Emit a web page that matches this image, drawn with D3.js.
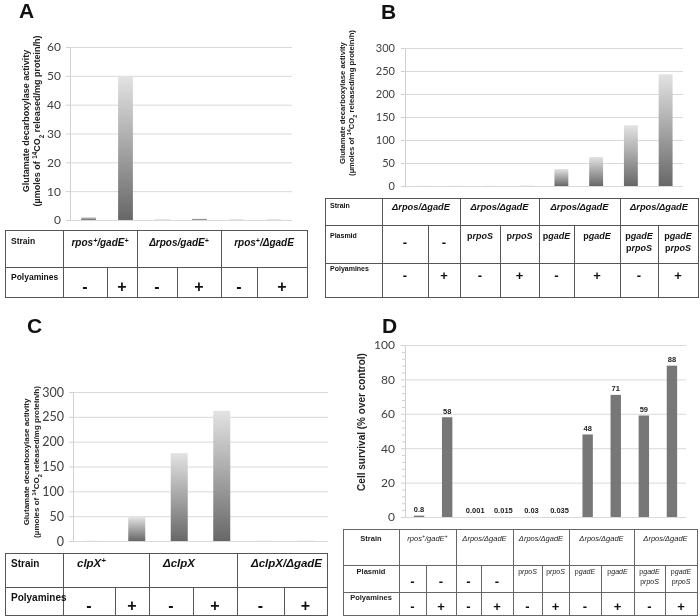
<!DOCTYPE html>
<html>
<head>
<meta charset="utf-8">
<script src="https://cdn.jsdelivr.net/npm/d3@7/dist/d3.min.js"></script>
<style>
  body { margin: 0; background: #fff; }
  svg { display: block; will-change: transform; }
</style>
</head>
<body>
<div id="figure"></div>
<script>
// panel A
const aStrains = ["rpos^+/gadE^+", "Δrpos/gadE^+", "rpos^+/ΔgadE"];
const aPolyamines = ["-", "+", "-", "+", "-", "+"];
const aValues = [1, 50, 0.2, 0.5, 0.2, 0.2];
const aTicks = [0, 10, 20, 30, 40, 50, 60];

// panel B
const bStrains = ["Δrpos/ΔgadE", "Δrpos/ΔgadE", "Δrpos/ΔgadE", "Δrpos/ΔgadE"];
const bPlasmids = ["-", "-", "prpoS", "prpoS", "pgadE", "pgadE", "pgadE|prpoS", "pgadE|prpoS"];
const bPolyamines = ["-", "+", "-", "+", "-", "+", "-", "+"];
const bValues = [0.5, 0.5, 0.5, 1, 37, 63, 132, 243];
const bTicks = [0, 50, 100, 150, 200, 250, 300];

// panel C
const cStrains = ["clpX^+", "ΔclpX", "ΔclpX/ΔgadE"];
const cPolyamines = ["-", "+", "-", "+", "-", "+"];
const cValues = [0.5, 48, 177, 262, 0.5, 1];
const cTicks = [0, 50, 100, 150, 200, 250, 300];

// panel D
const dStrains = ["rpos^+/gadE^+", "Δrpos/ΔgadE", "Δrpos/ΔgadE", "Δrpos/ΔgadE", "Δrpos/ΔgadE"];
const dPlasmids = ["-", "-", "-", "-", "prpoS", "prpoS", "pgadE", "pgadE", "pgadE|prpoS", "pgadE|prpoS"];
const dPolyamines = ["-", "+", "-", "+", "-", "+", "-", "+", "-", "+"];
const dValues = [0.8, 58, 0.001, 0.015, 0.03, 0.035, 48, 71, 59, 88];
const dLabels = ["0.8", "58", "0.001", "0.015", "0.03", "0.035", "48", "71", "59", "88"];
const dTicks = [0, 20, 40, 60, 80, 100];

const gadTitle = ["Glutamate decarboxylase activity", "(µmoles of ^{14}CO_2 released/mg protein/h)"];
const survivalTitle = ["Cell survival (% over control)"];

const svg = d3.select("#figure").append("svg")
    .attr("width", 700)
    .attr("height", 616)
    .attr("font-family", "'Liberation Sans', Arial, sans-serif");

const grad = svg.append("defs").append("linearGradient")
    .attr("id", "barFade")
    .attr("x1", 0).attr("y1", 0).attr("x2", 0).attr("y2", 1);
grad.append("stop").attr("offset", "0%").attr("stop-color", "#e3e3e3");
grad.append("stop").attr("offset", "100%").attr("stop-color", "#676767");

// ^x / ^{xx} superscript, _x subscript
function rich(text, str, size) {
    const re = /\^\{([^}]*)\}|\^(.)|_(.)/g;
    let last = 0, m;
    while ((m = re.exec(str)) !== null) {
        if (m.index > last) text.append("tspan").text(str.slice(last, m.index));
        const sup = m[1] !== undefined ? m[1] : m[2];
        text.append("tspan")
            .attr("baseline-shift", sup !== undefined ? "super" : "sub")
            .attr("font-size", size * 0.7)
            .text(sup !== undefined ? sup : m[3]);
        last = re.lastIndex;
    }
    if (last < str.length) text.append("tspan").text(str.slice(last));
}

function panelLetter(letter, x, y) {
    svg.append("text")
        .attr("x", x).attr("y", y)
        .attr("font-size", 21)
        .attr("font-weight", "bold")
        .attr("fill", "#111")
        .text(letter);
}

function barChart(o) {
    const x = d3.scaleBand()
        .domain(d3.range(o.values.length))
        .range([o.left, o.right])
        .paddingInner(o.pad)
        .paddingOuter(o.pad / 2);
    const y = d3.scaleLinear().domain([0, d3.max(o.ticks)]).range([o.bottom, o.top]);
    const g = svg.append("g");

    g.selectAll(".grid").data(o.ticks).join("line")
        .attr("class", "grid")
        .attr("x1", o.left).attr("x2", o.right)
        .attr("y1", d => y(d) + 0.5).attr("y2", d => y(d) + 0.5)
        .attr("stroke", "#d9d9d9");

    const axis = g.append("g")
        .attr("transform", `translate(${o.left},0)`)
        .call(d3.axisLeft(y).tickValues(o.ticks).tickSize(4).tickSizeOuter(0).tickPadding(o.tickPad));
    axis.select(".domain").attr("stroke", "#d0d0d0");
    axis.selectAll(".tick line").attr("stroke", "#d0d0d0");
    axis.selectAll(".tick text")
        .attr("font-family", "Lato, 'Open Sans', sans-serif")
        .attr("font-size", o.tickFont)
        .attr("fill", "#404040");

    // small ticks between the gridlines (panel D)
    if (o.minorStep) {
        const minor = d3.range(0, d3.max(o.ticks), o.minorStep).filter(v => !o.ticks.includes(v));
        g.selectAll(".minor").data(minor).join("line")
            .attr("x1", o.left - 3).attr("x2", o.left)
            .attr("y1", d => y(d) + 0.5).attr("y2", d => y(d) + 0.5)
            .attr("stroke", "#d0d0d0");
    }

    g.selectAll(".bar").data(o.values).join("rect")
        .attr("class", "bar")
        .attr("x", (d, i) => x(i))
        .attr("width", x.bandwidth())
        .attr("y", d => y(d))
        .attr("height", d => y(0) - y(d))
        .attr("fill", o.fill);

    if (o.labels) {
        g.selectAll(".val").data(o.values).join("text")
            .attr("class", "val")
            .attr("x", (d, i) => x(i) + x.bandwidth() / 2)
            .attr("y", d => y(d) - 3.5)
            .attr("text-anchor", "middle")
            .attr("font-size", 7.5)
            .attr("font-weight", "bold")
            .attr("fill", "#222")
            .text((d, i) => o.labels[i]);
    }
}

function yTitle(lines, xs, cy, size) {
    lines.forEach((line, i) => {
        const t = svg.append("text")
            .attr("transform", `translate(${xs[i]},${cy}) rotate(-90)`)
            .attr("text-anchor", "middle")
            .attr("font-size", size)
            .attr("font-weight", "bold")
            .attr("fill", "#222");
        rich(t, line, size);
    });
}

function table(t) {
    const g = svg.append("g").attr("stroke", t.lineColor).attr("stroke-width", 1);
    const left = t.cols[0], right = t.cols[t.cols.length - 1];
    const top = t.rows[0], bottom = t.rows[t.rows.length - 1];
    const line = (x1, y1, x2, y2) => g.append("line")
        .attr("x1", x1 + 0.5).attr("y1", y1 + 0.5)
        .attr("x2", x2 + 0.5).attr("y2", y2 + 0.5);

    g.append("rect")
        .attr("x", left + 0.5).attr("y", top + 0.5)
        .attr("width", right - left).attr("height", bottom - top)
        .attr("fill", "none");
    t.rows.slice(1, -1).forEach(yv => line(left, yv, right, yv));
    // strain row only splits at group borders
    t.cols.slice(1, -1).forEach((xv, i) => line(xv, i % 2 === 0 ? top : t.rows[1], xv, bottom));

    const txt = svg.append("g").attr("fill", t.color);

    t.headers.forEach((h, r) => {
        txt.append("text")
            .attr("x", t.headerAlign === "middle" ? (left + t.cols[1]) / 2 : left + t.headerPad)
            .attr("y", t.headerY[r])
            .attr("text-anchor", t.headerAlign)
            .attr("font-size", t.headerFont)
            .attr("font-weight", "bold")
            .text(h);
    });

    t.groups.forEach((s, i) => {
        const x0 = t.cols[1 + 2 * i], x1 = t.cols[3 + 2 * i];
        const tx = txt.append("text")
            .attr("x", t.groupAlign === "start" ? x0 + t.groupPad : (x0 + x1) / 2)
            .attr("y", t.groupY)
            .attr("text-anchor", t.groupAlign)
            .attr("font-size", t.groupFont)
            .attr("font-weight", t.groupWeight)
            .attr("font-style", "italic");
        rich(tx, s, t.groupFont);
    });

    t.cells.forEach((rowData, r) => {
        rowData.forEach((v, i) => {
            const cx = (t.cols[1 + i] + t.cols[2 + i]) / 2;
            if (v === "-" || v === "+") {
                txt.append("text")
                    .attr("x", cx).attr("y", t.signY[r])
                    .attr("text-anchor", "middle")
                    .attr("dominant-baseline", "central")
                    .attr("font-size", t.signFont)
                    .attr("font-weight", "bold")
                    .attr("fill", "#111")
                    .text(v);
            } else {
                v.split("|").forEach((part, k) => {
                    const tx = txt.append("text")
                        .attr("x", cx).attr("y", t.textY + k * t.textGap)
                        .attr("text-anchor", "middle")
                        .attr("font-size", t.textFont)
                        .attr("font-weight", t.textWeight);
                    tx.append("tspan").text(part[0]);
                    tx.append("tspan").attr("font-style", "italic").text(part.slice(1));
                });
            }
        });
    });
}

// ---- A ----
panelLetter("A", 19, 18);
yTitle(gadTitle, [29, 40], 121, 9);
barChart({ values: aValues, ticks: aTicks, left: 70, right: 292, top: 47, bottom: 220,
    pad: 0.6, tickPad: 5, tickFont: 12, fill: "url(#barFade)" });
table({
    cols: [5, 63, 107, 137, 177, 221, 257, 307], rows: [230, 267, 297],
    lineColor: "#555", color: "#111",
    headers: ["Strain", "Polyamines"], headerAlign: "start", headerPad: 6, headerFont: 8.5, headerY: [244, 280],
    groups: aStrains, groupAlign: "middle", groupFont: 10, groupWeight: "bold", groupY: 246,
    cells: [aPolyamines], signY: [286], signFont: 16
});

// ---- B ----
panelLetter("B", 381, 19);
yTitle(gadTitle, [345, 354], 103, 7.7);
barChart({ values: bValues, ticks: bTicks, left: 405, right: 683, top: 48, bottom: 186,
    pad: 0.6, tickPad: 6, tickFont: 11, fill: "url(#barFade)" });
table({
    cols: [325, 382, 428, 460, 500, 539, 574, 620, 658, 698], rows: [198, 225, 263, 297],
    lineColor: "#555", color: "#111",
    headers: ["Strain", "Plasmid", "Polyamines"], headerAlign: "start", headerPad: 5, headerFont: 7, headerY: [208, 238, 271],
    groups: bStrains, groupAlign: "middle", groupFont: 9.3, groupWeight: "bold", groupY: 210,
    cells: [bPlasmids, bPolyamines], signY: [242, 275], signFont: 13,
    textFont: 9, textWeight: "bold", textY: 239, textGap: 12
});

// ---- C ----
panelLetter("C", 27, 333);
yTitle(gadTitle, [29, 39], 462, 8);
barChart({ values: cValues, ticks: cTicks, left: 73, right: 328, top: 392, bottom: 541,
    pad: 0.6, tickPad: 5, tickFont: 12.5, fill: "url(#barFade)" });
table({
    cols: [5, 63, 115, 149, 193, 237, 284, 327], rows: [553, 587, 615],
    lineColor: "#555", color: "#111",
    headers: ["Strain", "Polyamines"], headerAlign: "start", headerPad: 6, headerFont: 10, headerY: [567, 601],
    groups: cStrains, groupAlign: "start", groupPad: 14, groupFont: 11.5, groupWeight: "bold", groupY: 567,
    cells: [cPolyamines], signY: [605], signFont: 16
});

// ---- D ----
panelLetter("D", 382, 333);
yTitle(survivalTitle, [365], 422, 10);
barChart({ values: dValues, ticks: dTicks, left: 405, right: 686, top: 345, bottom: 517,
    pad: 0.63, tickPad: 6, tickFont: 12, fill: "#777", minorStep: 4, labels: dLabels });
table({
    cols: [343, 399, 426, 456, 481, 513, 542, 569, 601, 634, 665, 697], rows: [529, 565, 592, 615],
    lineColor: "#666", color: "#222",
    headers: ["Strain", "Plasmid", "Polyamines"], headerAlign: "middle", headerFont: 7.5, headerY: [541, 574, 600],
    groups: dStrains, groupAlign: "middle", groupFont: 7.5, groupWeight: "normal", groupY: 541,
    cells: [dPlasmids, dPolyamines], signY: [581, 606], signFont: 13,
    textFont: 7, textWeight: "normal", textY: 574, textGap: 10
});
</script>
</body>
</html>
